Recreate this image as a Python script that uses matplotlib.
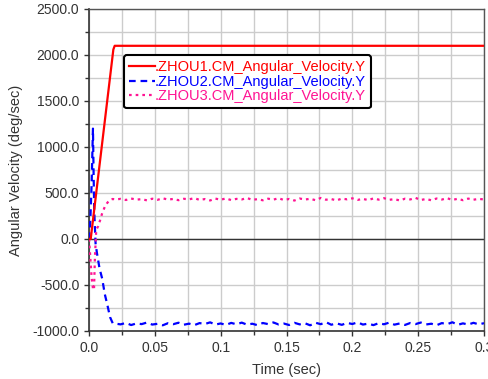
import matplotlib
matplotlib.use("Agg")
import matplotlib.pyplot as plt
import numpy as np
from matplotlib.ticker import MultipleLocator

plt.rcParams["font.family"] = ["Liberation Sans", "DejaVu Sans"]

# --- data ---
red_t = [0.0, 0.0013, 0.0185, 0.0195, 0.3]
red_v = [0.0, 0.0, 2060.0, 2100.0, 2100.0]

blue_t_start = [0.0, 0.001, 0.002, 0.003, 0.0035, 0.004, 0.005, 0.006, 0.008,
                0.010, 0.012, 0.014, 0.016, 0.018]
blue_v_start = [0.0, 200.0, 600.0, 1200.0, 700.0, 300.0, -50.0, -150.0, -320.0,
                -430.0, -600.0, -720.0, -850.0, -915.0]
blue_steady = [-920, -928, -912, -935, -918, -925, -908, -930, -922, -938,
               -915, -926, -910, -932, -920, -936, -914, -924, -906, -930,
               -918, -934, -912, -927, -909, -931, -921, -937, -913, -925,
               -907, -929, -919, -935, -911, -928, -916, -938, -910, -926,
               -904, -932, -917, -933, -912, -924, -906, -930, -920, -936,
               -915, -927, -909, -931, -918, -934, -913, -925, -908, -929,
               -921, -937, -914, -926, -905, -933, -917, -930, -911, -928, -915]

mag_t_start = [0.0, 0.001, 0.002, 0.003, 0.0038, 0.0045, 0.0055, 0.007, 0.0085,
               0.010, 0.012, 0.014, 0.016, 0.018]
mag_v_start = [0.0, -200.0, -420.0, -540.0, -554.0, -200.0, 100.0, 140.0, 207.0,
               280.0, 350.0, 395.0, 425.0, 435.0]
mag_steady = [430, 436, 424, 440, 428, 433, 420, 438, 426, 442,
              429, 435, 422, 437, 431, 444, 425, 434, 419, 439,
              427, 441, 423, 436, 430, 445, 426, 433, 421, 438,
              428, 443, 424, 435, 418, 440, 429, 437, 422, 446,
              427, 434, 420, 439, 431, 442, 425, 436, 423, 441,
              428, 444, 426, 433, 419, 438, 430, 447, 424, 435,
              421, 440, 429, 443, 425, 437, 422, 439, 427, 436, 430]

steady_t = np.linspace(0.02, 0.30, len(blue_steady))

blue_t = np.concatenate([blue_t_start, steady_t])
blue_v = np.concatenate([blue_v_start, blue_steady])
mag_t = np.concatenate([mag_t_start, steady_t])
mag_v = np.concatenate([mag_v_start, mag_steady])

x_ticks = [0.0, 0.05, 0.1, 0.15, 0.2, 0.25, 0.3]
x_labels = ["0.0", "0.05", "0.1", "0.15", "0.2", "0.25", "0.3"]
y_ticks = [-1000, -500, 0, 500, 1000, 1500, 2000, 2500]

fig = plt.figure(figsize=(4.89, 3.79), dpi=100)
ax = fig.add_axes([89 / 489, 1 - 331 / 379, 395 / 489, 322 / 379])

ax.plot(red_t, red_v, color="#ff0000", lw=1.6,
        label=".ZHOU1.CM_Angular_Velocity.Y", zorder=4)
ax.plot(blue_t, blue_v, color="#0000ff", lw=1.6, dashes=(3.0, 2.2),
        label=".ZHOU2.CM_Angular_Velocity.Y", zorder=3)
ax.plot(mag_t, mag_v, color="#ff1493", lw=1.6, dashes=(1.2, 1.8),
        label=".ZHOU3.CM_Angular_Velocity.Y", zorder=3)

ax.axhline(0, color="#333333", lw=1.0, zorder=2)

ax.set_xlim(0, 0.3)
ax.set_ylim(-1000, 2500)
ax.set_xticks(x_ticks)
ax.set_xticklabels(x_labels)
ax.set_yticks(y_ticks)
ax.set_yticklabels([f"{v:.1f}" for v in y_ticks])
ax.xaxis.set_minor_locator(MultipleLocator(0.025))
ax.yaxis.set_minor_locator(MultipleLocator(250))
ax.grid(True, which="both", color="#cccccc", lw=1.0, zorder=0)
ax.set_axisbelow(True)

ax.tick_params(which="both", direction="out", labelsize=10, colors="#333333",
               labelcolor="#333333")
ax.tick_params(which="major", length=3.5, width=1.0)
ax.tick_params(which="minor", length=3.0, width=1.0)

for side in ["left", "bottom"]:
    ax.spines[side].set_color("#333333")
    ax.spines[side].set_linewidth(1.2)
for side in ["top", "right"]:
    ax.spines[side].set_color("#555555")
    ax.spines[side].set_linewidth(1.0)

ax.set_xlabel("Time (sec)", fontsize=10.5, color="#333333", labelpad=6)
ax.set_ylabel("Angular Velocity (deg/sec)", fontsize=10.5, color="#333333", labelpad=7)

leg = ax.legend(loc="upper left", bbox_to_anchor=(0.088, 0.857), borderaxespad=0,
                fontsize=10.5, handlelength=1.8, handletextpad=0.0, borderpad=0.35,
                labelspacing=0.04, frameon=True, fancybox=True, framealpha=1)
leg.get_frame().set_edgecolor("black")
leg.get_frame().set_linewidth(1.5)
for txt, line in zip(leg.get_texts(), leg.get_lines()):
    txt.set_color(line.get_color())

fig.savefig("out.png", dpi=100)
